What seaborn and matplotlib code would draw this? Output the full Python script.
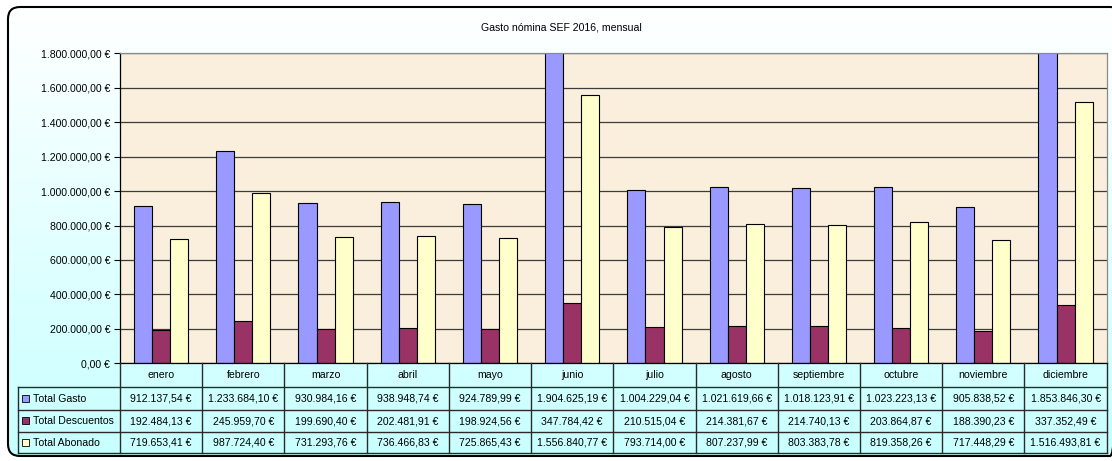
import numpy as np
import pandas as pd
import seaborn as sns
import matplotlib.pyplot as plt
from matplotlib.patches import FancyBboxPatch, Rectangle
from matplotlib.colors import LinearSegmentedColormap
from matplotlib.ticker import FuncFormatter

# ----------------------------------------------------------------
# Data
# ----------------------------------------------------------------
meses = ["enero", "febrero", "marzo", "abril", "mayo", "junio", "julio",
         "agosto", "septiembre", "octubre", "noviembre", "diciembre"]
total_gasto = [912137.54, 1233684.10, 930984.16, 938948.74, 924789.99, 1904625.19,
               1004229.04, 1021619.66, 1018123.91, 1023223.13, 905838.52, 1853846.30]
total_descuentos = [192484.13, 245959.70, 199690.40, 202481.91, 198924.56, 347784.42,
                    210515.04, 214381.67, 214740.13, 203864.87, 188390.23, 337352.49]
total_abonado = [719653.41, 987724.40, 731293.76, 736466.83, 725865.43, 1556840.77,
                 793714.00, 807237.99, 803383.78, 819358.26, 717448.29, 1516493.81]
series = ["Total Gasto", "Total Descuentos", "Total Abonado"]
colores = ["#9999ff", "#993366", "#ffffcc"]
titulo = "Gasto nómina SEF 2016, mensual"

df = pd.DataFrame({
    "mes": meses * 3,
    "serie": [s for s in series for _ in meses],
    "valor": total_gasto + total_descuentos + total_abonado,
})


def euro(v, pos=None):
    s = f"{v:,.2f}".replace(",", "X").replace(".", ",").replace("X", ".")
    return s + " €"


plt.rcParams["font.family"] = ["Liberation Sans", "DejaVu Sans"]
FS = 7.6

W, H = 1112, 461
fig = plt.figure(figsize=(W / 100, H / 100), dpi=100)

# background with rounded border and gradient
bg = fig.add_axes([0, 0, 1, 1])
bg.set_xlim(0, W)
bg.set_ylim(H, 0)
bg.axis("off")
cmap = LinearSegmentedColormap.from_list("fondo", ["#ffffff", "#c8ffff"])
grad = np.linspace(0, 1, 256)[:, None]
im = bg.imshow(grad, cmap=cmap, extent=(8, 1122, 456, 7), aspect="auto")
caja = FancyBboxPatch((8, 7), 1114, 449, boxstyle="round,pad=0,rounding_size=12",
                      fc="none", ec="black", lw=1.5)
bg.add_patch(caja)
im.set_clip_path(caja)
bg.text(561, 27, titulo, ha="center", va="center", fontsize=FS)

# ----------------------------------------------------------------
# Bars
# ----------------------------------------------------------------
x0, x1 = 120, 1106.7
y_top, y_bot = 53.3, 363.3
ax = fig.add_axes([x0 / W, 1 - y_bot / H, (x1 - x0) / W, (y_bot - y_top) / H])
ax.set_facecolor("#f9efdc")
sns.barplot(data=df, x="mes", y="valor", hue="serie", palette=colores, saturation=1,
            width=0.66, edgecolor="black", linewidth=0.8, errorbar=None,
            legend=False, ax=ax)
ax.set_xlim(-0.5, 11.5)
ax.set_ylim(0, 1800000)
ax.set_yticks(np.arange(0, 1800001, 200000))
ax.yaxis.set_major_formatter(FuncFormatter(euro))
ax.set_xticks([])
ax.set_xlabel("")
ax.set_ylabel("")
ax.grid(axis="y", color="#3c3c3c", lw=0.9)
ax.set_axisbelow(True)
ax.tick_params(axis="y", length=4, width=0.8, direction="out", labelsize=FS, pad=3)
for lado in ["top", "right"]:
    ax.spines[lado].set_color("#8a8a8a")
    ax.spines[lado].set_linewidth(0.9)
for lado in ["left", "bottom"]:
    ax.spines[lado].set_color("black")
    ax.spines[lado].set_linewidth(0.9)

# ----------------------------------------------------------------
# Data table
# ----------------------------------------------------------------
tl = 18.3
filas = [363.3, 387, 410, 432, 453]
tx = fig.add_axes([tl / W, 1 - filas[-1] / H, (x1 - tl) / W, (filas[-1] - filas[0]) / H])
tx.set_xlim(tl, x1)
tx.set_ylim(filas[-1], filas[0])
tx.axis("off")
col_w = (x1 - x0) / len(meses)
lc, lw = "#2a2a2a", 1.0
for yy in filas[1:]:
    tx.plot([tl, x1], [yy, yy], color=lc, lw=lw, clip_on=False)
tx.plot([tl, tl], [filas[1], filas[-1]], color=lc, lw=lw, clip_on=False)
for i in range(len(meses) + 1):
    xx = x0 + i * col_w
    tx.plot([xx, xx], [filas[0], filas[-1]], color=lc, lw=lw, clip_on=False)
for i, m in enumerate(meses):
    tx.text(x0 + (i + 0.5) * col_w, (filas[0] + filas[1]) / 2, m,
            ha="center", va="center", fontsize=FS)
valores = [total_gasto, total_descuentos, total_abonado]
for r, (nombre, col, vals) in enumerate(zip(series, colores, valores)):
    yc = (filas[r + 1] + filas[r + 2]) / 2
    tx.add_patch(Rectangle((22, yc - 3.5), 7, 7, fc=col, ec="black", lw=0.6))
    tx.text(33, yc, nombre, ha="left", va="center", fontsize=FS)
    for i, v in enumerate(vals):
        tx.text(x0 + (i + 0.5) * col_w, yc, euro(v), ha="center", va="center", fontsize=FS)

fig.savefig("out.png", dpi=100)
